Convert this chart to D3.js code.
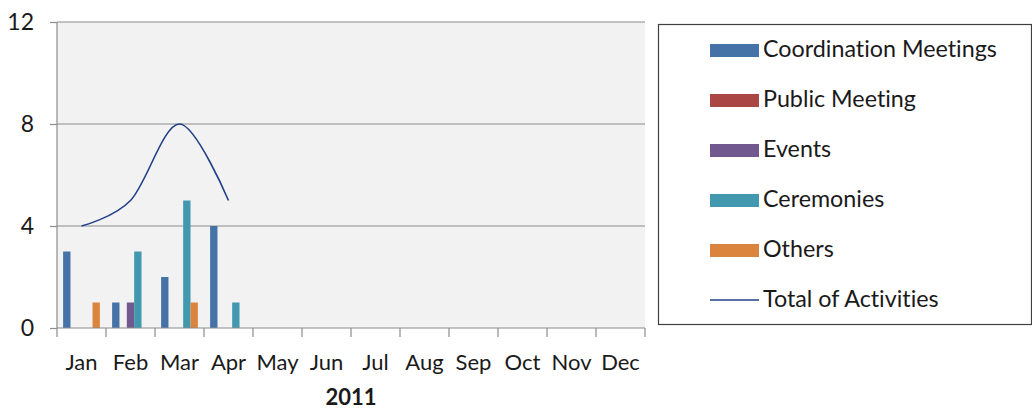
<!DOCTYPE html>
<html>
<head>
<meta charset="utf-8">
<script src="https://cdn.jsdelivr.net/npm/d3@7"></script>
<style>
  body { margin: 0; background: #fff; }
  text { font-family: Lato, "Open Sans", sans-serif; fill: #1a1a1a; font-variant-ligatures: none; }
</style>
</head>
<body>
<div class="chart"></div>
<script>
// data
var months = ["Jan", "Feb", "Mar", "Apr", "May", "Jun", "Jul", "Aug", "Sep", "Oct", "Nov", "Dec"];
var seriesNames = ["Coordination Meetings", "Public Meeting", "Events", "Ceremonies", "Others"];
var coordination = [3, 1, 2, 4, 0, 0, 0, 0, 0, 0, 0, 0];
var publicMeeting = [0, 0, 0, 0, 0, 0, 0, 0, 0, 0, 0, 0];
var events = [0, 1, 0, 0, 0, 0, 0, 0, 0, 0, 0, 0];
var ceremonies = [0, 3, 5, 1, 0, 0, 0, 0, 0, 0, 0, 0];
var others = [1, 0, 1, 0, 0, 0, 0, 0, 0, 0, 0, 0];
var totalActivities = [4, 5, 8, 5];
var yTicks = [0, 4, 8, 12];
var xTitle = "2011";
var lineName = "Total of Activities";

var colors = ["#4572A7", "#AA4643", "#71588F", "#4198AF", "#DB843D"];
var lineColor = "#22418a";

var svgWidth = 1032;
var svgHeight = 409;
var margin = { top: 22, right: 387, bottom: 81, left: 57 };
var width = svgWidth - margin.left - margin.right;
var height = svgHeight - margin.top - margin.bottom;

var allSeries = [coordination, publicMeeting, events, ceremonies, others];

var svg = d3.select(".chart")
    .append("svg")
    .attr("width", svgWidth)
    .attr("height", svgHeight);

var chart = svg.append("g")
    .attr("transform", `translate(${margin.left},${margin.top})`);

var xScale = d3.scaleBand().domain(months).range([0, width]).padding(0);
var gap = xScale.bandwidth() * 0.125;
var xInner = d3.scaleBand().domain(d3.range(seriesNames.length))
    .range([gap, xScale.bandwidth() - gap]).padding(0);
var yScale = d3.scaleLinear().domain([0, 12]).range([height, 0]);

// plot background
chart.append("rect")
    .attr("width", width)
    .attr("height", height)
    .attr("fill", "#f2f2f2");

// gridlines
chart.selectAll(".grid")
    .data(yTicks.filter(function (d) { return d > 0; }))
    .enter()
    .append("line")
    .attr("x1", 0)
    .attr("x2", width)
    .attr("y1", function (d) { return yScale(d); })
    .attr("y2", function (d) { return yScale(d); })
    .attr("stroke", "#8c8c8c")
    .attr("stroke-width", 1.2);

// bars
var rows = [];
months.forEach(function (m, i) {
    allSeries.forEach(function (s, j) {
        rows.push({ month: m, k: j, value: s[i] });
    });
});

chart.selectAll(".bar")
    .data(rows.filter(function (d) { return d.value > 0; }))
    .enter()
    .append("rect")
    .attr("class", "bar")
    .attr("x", function (d) { return xScale(d.month) + xInner(d.k); })
    .attr("width", xInner.bandwidth())
    .attr("y", function (d) { return yScale(d.value); })
    .attr("height", function (d) { return height - yScale(d.value); })
    .attr("fill", function (d) { return colors[d.k]; });

// total line (smoothed)
var line = d3.line()
    .x(function (d, i) { return xScale(months[i]) + xScale.bandwidth() / 2; })
    .y(function (d) { return yScale(d); })
    .curve(d3.curveCatmullRom.alpha(0));

chart.append("path")
    .datum(totalActivities)
    .attr("d", line)
    .attr("fill", "none")
    .attr("stroke", lineColor)
    .attr("stroke-width", 1.6);

// axes
var yAxis = d3.axisLeft(yScale).tickValues(yTicks).tickSize(7).tickPadding(16);
var yg = chart.append("g").call(yAxis);
yg.select(".domain").remove();
yg.selectAll("line").attr("stroke", "#8c8c8c").attr("stroke-width", 1.2);
yg.selectAll("text").attr("font-size", "23px").attr("fill", "#1a1a1a")
    .style("font-family", "Lato, sans-serif");

chart.append("line")
    .attr("x1", 0).attr("x2", 0)
    .attr("y1", 0).attr("y2", height + 9)
    .attr("stroke", "#8c8c8c").attr("stroke-width", 1.2);

var xAxis = d3.axisBottom(xScale).tickSize(0).tickPadding(26);
var xg = chart.append("g")
    .attr("transform", `translate(0,${height})`)
    .call(xAxis);
xg.select(".domain").remove();
xg.selectAll("text").attr("font-size", "22px").attr("fill", "#1a1a1a")
    .style("font-family", "Lato, sans-serif");

chart.append("line")
    .attr("x1", 0).attr("x2", width)
    .attr("y1", height).attr("y2", height)
    .attr("stroke", "#8c8c8c").attr("stroke-width", 1.2);

chart.selectAll(".xtick")
    .data(months)
    .enter()
    .append("line")
    .attr("x1", function (d) { return xScale(d) + xScale.bandwidth(); })
    .attr("x2", function (d) { return xScale(d) + xScale.bandwidth(); })
    .attr("y1", height)
    .attr("y2", height + 9)
    .attr("stroke", "#8c8c8c")
    .attr("stroke-width", 1.2);

chart.append("text")
    .attr("x", width / 2)
    .attr("y", height + 77)
    .attr("text-anchor", "middle")
    .attr("font-size", "22px")
    .attr("font-weight", "bold")
    .text(xTitle);

// legend
var legend = svg.append("g").attr("transform", "translate(658,24)");
legend.append("rect")
    .attr("x", 0.5).attr("y", 0.5)
    .attr("width", 373).attr("height", 300)
    .attr("fill", "#fff")
    .attr("stroke", "#404040")
    .attr("stroke-width", 1.2);

var items = legend.selectAll(".item")
    .data(seriesNames.concat([lineName]))
    .enter()
    .append("g")
    .attr("transform", function (d, i) { return `translate(52,${26 + i * 50})`; });

items.filter(function (d, i) { return i < seriesNames.length; })
    .append("rect")
    .attr("x", 0).attr("y", -6)
    .attr("width", 49).attr("height", 13)
    .attr("fill", function (d, i) { return colors[i]; });

items.filter(function (d, i) { return i === seriesNames.length; })
    .append("line")
    .attr("x1", 0).attr("x2", 49)
    .attr("y1", 0).attr("y2", 0)
    .attr("stroke", lineColor)
    .attr("stroke-width", 1.6);

items.append("text")
    .attr("x", 53)
    .attr("y", 7)
    .attr("font-size", "23.3px")
    .text(function (d) { return d; });
</script>
</body>
</html>
